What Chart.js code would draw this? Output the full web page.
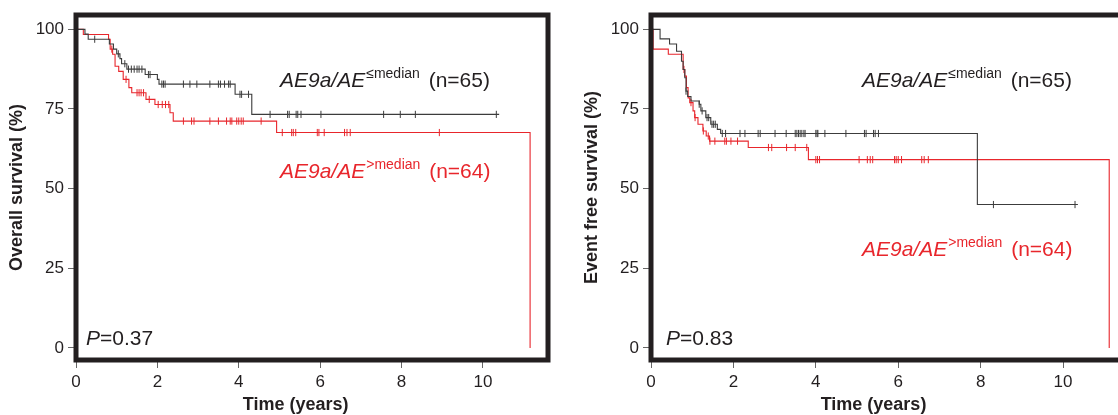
<!DOCTYPE html>
<html lang="en">
<head>
  <meta charset="UTF-8">
  <title>AE9a/AE survival</title>
  <script src="https://cdn.jsdelivr.net/npm/chart.js@4.4.0/dist/chart.umd.min.js"></script>
  <style>
    html, body {
      margin: 0;
      padding: 0;
      background: #fff;
      overflow: hidden;
    }
    .wrap {
      position: relative;
      width: 1118px;
      height: 415px;
    }
    #osChart { position: absolute; left: 0; top: 0; }
    #efsChart { position: absolute; left: 560px; top: 0; }
  </style>
</head>
<body>
  <div class="wrap">
    <canvas id="osChart" width="560" height="415"></canvas>
    <canvas id="efsChart" width="580" height="415"></canvas>
  </div>

<script>
  // axis ticks
  const xTicks = [0, 2, 4, 6, 8, 10];
  const yTicks = [0, 25, 50, 75, 100];

  // overall survival, AE9a/AE <= median (black)
  const osLowTime = [0, 0.22, 0.3, 0.82, 0.92, 1.0, 1.08, 1.12, 1.25, 1.7, 2.0, 2.04, 3.91, 4.32];
  const osLowSurv = [100, 98.5, 96.9, 95.4, 93.8, 92.3, 90.8, 89.2, 87.5, 85.8, 84.3, 82.8, 79.6, 73.3];
  const osLowEnd = 10.4;
  const osLowCens = [0.46, 1.04, 1.2, 1.29, 1.36, 1.43, 1.5, 1.55, 1.62, 1.78, 1.82, 2.11, 2.15, 2.19,
    2.64, 2.8, 2.97, 3.29, 3.5, 3.55, 3.65, 3.75, 3.79, 4.03, 4.07, 4.24, 4.77, 5.2, 5.24, 5.41,
    5.45, 5.53, 6.02, 7.56, 7.97, 8.34, 10.33];

  // overall survival, AE9a/AE > median (red)
  const osHighTime = [0, 0.18, 0.8, 0.84, 0.9, 0.96, 1.05, 1.16, 1.3, 1.37, 1.72, 1.94, 2.31, 2.39, 4.93, 11.16];
  const osHighSurv = [100, 98.4, 96.9, 93.8, 92.2, 88.4, 86.8, 84.3, 81.7, 80.1, 78.0, 76.4, 73.8, 71.2, 67.6, 0];
  const osHighCens = [0.88, 1.23, 1.5, 1.55, 1.6, 1.66, 1.8, 2.02, 2.12, 2.2, 2.28, 2.64, 2.84, 2.9,
    3.29, 3.5, 3.7, 3.79, 3.83, 3.95, 4.0, 4.06, 4.11, 4.55, 5.07, 5.3, 5.34, 5.4, 5.93, 5.97,
    6.1, 6.6, 6.66, 6.74, 8.93];

  // event free survival, AE9a/AE <= median (black)
  const efsLowTime = [0, 0.22, 0.45, 0.62, 0.74, 0.78, 0.82, 0.85, 0.89, 0.97, 1.17, 1.21, 1.33, 1.45, 1.61, 1.69, 7.92];
  const efsLowSurv = [100, 97.0, 95.4, 93.1, 90.0, 87.4, 84.8, 80.6, 78.9, 77.5, 76.5, 74.4, 72.3, 70.2, 68.6, 67.3, 45.0];
  const efsLowEnd = 10.36;
  const efsLowCens = [0.85, 1.17, 1.24, 1.36, 1.4, 1.48, 1.52, 1.56, 1.73, 1.81, 2.16, 2.28, 2.6, 2.65,
    3.01, 3.28, 3.5, 3.54, 3.58, 3.62, 3.66, 3.71, 3.74, 4.0, 4.03, 4.05, 4.22, 4.73, 5.18, 5.22,
    5.4, 5.44, 5.52, 8.31, 10.29];

  // event free survival, AE9a/AE > median (red)
  const efsHighTime = [0, 0.05, 0.42, 0.78, 0.82, 0.86, 0.9, 0.94, 1.02, 1.06, 1.14, 1.26, 1.34, 1.42, 2.36, 3.82, 11.12];
  const efsHighSurv = [100, 93.8, 92.2, 87.4, 85.3, 81.7, 78.5, 77.0, 74.4, 72.3, 70.2, 68.1, 66.5, 64.9, 62.9, 59.1, 0];
  const efsHighCens = [0.8, 0.97, 1.07, 1.27, 1.39, 1.43, 1.55, 1.79, 1.83, 1.94, 2.1, 2.85, 2.93, 3.29,
    3.5, 3.78, 4.0, 4.04, 4.09, 5.05, 5.25, 5.32, 5.38, 5.91, 5.95, 6.0, 6.08, 6.57, 6.63, 6.73];

  const BLACK = '#3c3c3c';
  const RED = '#e8262c';
  const INK = '#231f20';
  const FONT = '"Liberation Sans", Arial, Helvetica, sans-serif';

  Chart.defaults.font.family = FONT;
  Chart.defaults.color = INK;

  // step curve points, plus the last follow-up when the curve ends censored
  function stepPoints(times, surv, end) {
    const pts = times.map((t, i) => ({ x: t, y: surv[i] }));
    if (end !== undefined) pts.push({ x: end, y: surv[surv.length - 1] });
    return pts;
  }

  // censor marks sit on the curve at their time
  function censorPoints(times, surv, cens) {
    return cens.map(c => {
      let v = surv[0];
      for (let i = 0; i < times.length; i++) if (times[i] <= c) v = surv[i];
      return { x: c, y: v };
    });
  }

  function curve(times, surv, end, color) {
    return {
      type: 'line',
      data: stepPoints(times, surv, end),
      borderColor: color,
      borderWidth: 1.1,
      stepped: 'before',
      pointRadius: 0,
      fill: false
    };
  }

  function marks(times, surv, cens, color) {
    return {
      type: 'scatter',
      data: censorPoints(times, surv, cens),
      borderColor: color,
      backgroundColor: color,
      borderWidth: 1,
      pointStyle: 'line',
      rotation: 90,
      pointRadius: 3.6,
      showLine: false
    };
  }

  function drawLegend(ctx, x, y, color, sup, tail) {
    ctx.fillStyle = color;
    ctx.font = 'italic 21px ' + FONT;
    ctx.fillText('AE9a/AE', x, y);
    x += ctx.measureText('AE9a/AE').width + 1;
    ctx.font = '14px ' + FONT;
    ctx.fillText(sup, x, y - 9);
    x += ctx.measureText(sup).width + 3;
    ctx.font = '21px ' + FONT;
    ctx.fillText(' ' + tail, x, y);
  }

  // frame, group labels, P value and x title
  const kmDecor = {
    id: 'kmDecor',
    afterDraw(chart, args, o) {
      const ctx = chart.ctx;
      const a = chart.chartArea;
      ctx.save();
      ctx.strokeStyle = INK;
      ctx.lineWidth = 5;
      ctx.strokeRect(a.left, a.top, a.right - a.left, a.bottom - a.top);

      ctx.textAlign = 'left';
      ctx.textBaseline = 'alphabetic';
      drawLegend(ctx, a.left + o.labelX, o.lowY, INK, '\u2264median', '(n=65)');
      drawLegend(ctx, a.left + o.labelX, o.highY, RED, '>median', '(n=64)');

      ctx.fillStyle = INK;
      ctx.font = 'italic 21px ' + FONT;
      ctx.fillText('P', a.left + o.pX, 345);
      const pw = ctx.measureText('P').width;
      ctx.font = '21px ' + FONT;
      ctx.fillText(o.pText, a.left + o.pX + pw, 345);

      ctx.font = 'bold 18px ' + FONT;
      ctx.textAlign = 'center';
      ctx.textBaseline = 'middle';
      ctx.fillText('Time (years)', chart.scales.x.getPixelForValue(5.4), 405);
      ctx.restore();
    }
  };

  function makeOptions(yTitle, padLeft, padRight, yWidth, deco) {
    const grid = { drawOnChartArea: false, drawTicks: true, tickLength: 8, color: '#666', lineWidth: 1 };
    return {
      responsive: false,
      animation: false,
      layout: { padding: { left: padLeft, right: padRight, top: 15, bottom: 0 } },
      plugins: { legend: { display: false }, tooltip: { enabled: false }, kmDecor: deco },
      scales: {
        x: {
          type: 'linear',
          min: 0,
          max: 11.6,
          afterBuildTicks: axis => { axis.ticks = xTicks.map(v => ({ value: v })); },
          afterFit: scale => { scale.height = 55; },
          grid: grid,
          border: { display: false },
          ticks: { font: { size: 17 }, color: INK, padding: 4, maxRotation: 0 }
        },
        y: {
          type: 'linear',
          min: -3.8,
          max: 104.5,
          afterBuildTicks: axis => { axis.ticks = yTicks.map(v => ({ value: v })); },
          afterFit: scale => { scale.width = yWidth; },
          grid: grid,
          border: { display: false },
          title: {
            display: true,
            text: yTitle,
            color: INK,
            font: { size: 18, weight: 'bold' },
            padding: { top: 6, bottom: 0 }
          },
          ticks: { font: { size: 17 }, color: INK, padding: 4 }
        }
      }
    };
  }

  new Chart(document.getElementById('osChart'), {
    type: 'line',
    data: {
      datasets: [
        curve(osLowTime, osLowSurv, osLowEnd, BLACK),
        curve(osHighTime, osHighSurv, undefined, RED),
        marks(osLowTime, osLowSurv, osLowCens, BLACK),
        marks(osHighTime, osHighSurv, osHighCens, RED)
      ]
    },
    options: makeOptions('Overall survival (%)', 0, 12, 76,
      { labelX: 204, lowY: 87, highY: 178, pX: 10, pText: '=0.37' }),
    plugins: [kmDecor]
  });

  new Chart(document.getElementById('efsChart'), {
    type: 'line',
    data: {
      datasets: [
        curve(efsLowTime, efsLowSurv, efsLowEnd, BLACK),
        curve(efsHighTime, efsHighSurv, undefined, RED),
        marks(efsLowTime, efsLowSurv, efsLowCens, BLACK),
        marks(efsHighTime, efsHighSurv, efsHighCens, RED)
      ]
    },
    options: makeOptions('Event free survival (%)', 15, 11, 76,
      { labelX: 211, lowY: 87, highY: 256, pX: 15, pText: '=0.83' }),
    plugins: [kmDecor]
  });
</script>
</body>
</html>
